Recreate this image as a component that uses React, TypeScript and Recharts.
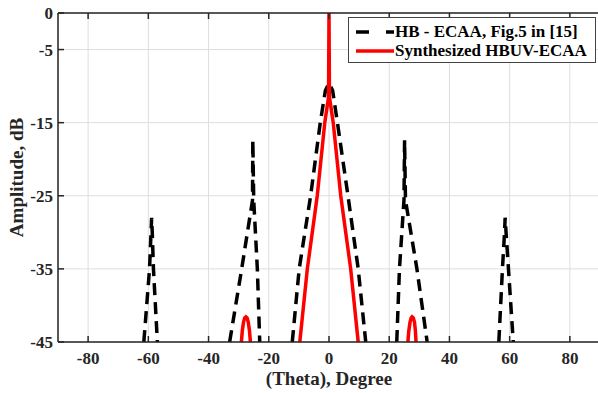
import React from 'react';
import { LineChart, Line, XAxis, YAxis, CartesianGrid, Legend } from 'recharts';

// Tick labels
const xTicks = [-80, -60, -40, -20, 0, 20, 40, 60, 80];
const yTicks = [0, -5, -15, -25, -35, -45];

// Series names
const hbName = 'HB - ECAA, Fig.5 in [15]';
const synName = 'Synthesized HBUV-ECAA';

// HB - ECAA (black dashed) — null marks a gap between lobes
const hbTheta = [
  -61.5, -59.6, -59.1, -58.9, -58.7, -58.3, -57.0,
  -45,
  -33.0, -29.0, -25.4, -25.3, -25.0, -23.8, -23.0,
  -18,
  -12.2, -9.9, -6.1, -2.9, -1.2, 0, 1.2, 2.8, 6.3, 9.7, 12.2,
  18,
  22.5, 23.4, 24.9, 25.1, 25.4, 29.2, 32.6,
  45,
  56.4, 57.6, 58.3, 58.5, 58.8, 59.6, 61.2,
];
const hbDb = [
  -45, -35, -30, -28, -30, -35, -45,
  null,
  -45, -35, -25.6, -17.4, -25.6, -35, -45,
  null,
  -45, -35, -25, -15, -10.6, -9.6, -10.6, -15, -25, -35, -45,
  null,
  -45, -35, -25.6, -17.4, -25.6, -35, -45,
  null,
  -45, -35, -30, -28, -30, -35, -45,
];

// Synthesized HBUV-ECAA (red solid)
const synTheta = [
  -29.1, -28.8, -28.4, -28.0, -27.6, -27.2, -26.8, -26.4, -26.1,
  -18,
  -9.7, -7.2, -3.9, -1.4, -0.15, 0, 0.15, 1.4, 3.9, 7.2, 9.7,
  18,
  26.2, 26.5, 26.9, 27.3, 27.6, 28.0, 28.4, 28.7, 28.9,
];
const synDb = [
  -45, -43.5, -42.3, -41.7, -41.55, -41.7, -42.3, -43.5, -45,
  null,
  -45, -35, -25, -15, -11.5, 0, -11.5, -15, -25, -35, -45,
  null,
  -45, -43.5, -42.3, -41.7, -41.55, -41.7, -42.3, -43.5, -45,
];

const hbData = hbTheta.map((x, i) => ({ x, y: hbDb[i] }));
const synData = synTheta.map((x, i) => ({ x, y: synDb[i] }));

const FONT = 'Liberation Serif, Times New Roman, serif';
const AX = '#262626';
const tickStyle = { fontFamily: FONT, fontWeight: 'bold' as const, fontSize: 17, fill: AX };

const legendDash: Record<string, string | undefined> = {
  [hbName]: '13 17',
  [synName]: undefined,
};

const renderLegend = (props: any) => {
  const payload = props.payload || [];
  return (
    <div
      style={{
        width: 248,
        height: 46,
        border: '1px solid #444',
        background: '#fff',
        boxSizing: 'border-box',
        padding: '4px 0 0 7px',
      }}
    >
      {payload.map((e: any) => (
        <div key={e.value} style={{ display: 'flex', alignItems: 'center', height: 19 }}>
          <svg width={38} height={6} style={{ display: 'block' }}>
            <line
              x1={0}
              y1={3}
              x2={38}
              y2={3}
              stroke={e.color}
              strokeWidth={3.5}
              strokeDasharray={legendDash[e.value]}
            />
          </svg>
          <span
            style={{
              fontFamily: FONT,
              fontWeight: 'bold',
              fontSize: 17,
              color: '#000',
              marginLeft: 1,
              whiteSpace: 'nowrap',
              lineHeight: '19px',
            }}
          >
            {e.value}
          </span>
        </div>
      ))}
    </div>
  );
};

export default function App() {
  return (
    <div style={{ position: 'absolute', left: 0, top: 0, width: 598, height: 393, overflow: 'hidden', background: '#fff' }}>
      <LineChart width={601} height={393} margin={{ top: 12, right: 0, bottom: 0, left: 0 }}>
        <CartesianGrid stroke="#dedede" strokeWidth={1} />
        <XAxis
          dataKey="x"
          type="number"
          domain={[-90, 90]}
          ticks={xTicks}
          allowDataOverflow
          height={51}
          tickSize={-6}
          tickMargin={16}
          axisLine={{ stroke: AX, strokeWidth: 1.5 }}
          tickLine={{ stroke: AX, strokeWidth: 1.5 }}
          tick={tickStyle}
          label={{
            content: (p: any) => {
              const vb = p.viewBox || {};
              return (
                <text
                  x={(vb.x ?? 58) + (vb.width ?? 542) / 2}
                  y={385}
                  textAnchor="middle"
                  fontFamily={FONT}
                  fontWeight="bold"
                  fontSize={19}
                  fill={AX}
                >
                  (Theta), Degree
                </text>
              );
            },
          }}
        />
        <XAxis
          xAxisId="top"
          orientation="top"
          dataKey="x"
          type="number"
          domain={[-90, 90]}
          ticks={xTicks}
          allowDataOverflow
          height={1}
          tickSize={-6}
          tickFormatter={() => ''}
          axisLine={{ stroke: AX, strokeWidth: 1.5 }}
          tickLine={{ stroke: AX, strokeWidth: 1.5 }}
        />
        <YAxis
          type="number"
          domain={[-45, 0]}
          ticks={yTicks}
          width={58}
          tickSize={-6}
          tickMargin={11}
          axisLine={{ stroke: AX, strokeWidth: 1.5 }}
          tickLine={{ stroke: AX, strokeWidth: 1.5 }}
          tick={tickStyle}
          label={{
            content: (p: any) => {
              const vb = p.viewBox || {};
              const cy = (vb.y ?? 13) + (vb.height ?? 329) / 2;
              return (
                <text
                  x={23}
                  y={cy}
                  transform={`rotate(-90, 23, ${cy})`}
                  textAnchor="middle"
                  fontFamily={FONT}
                  fontWeight="bold"
                  fontSize={19}
                  fill={AX}
                >
                  Amplitude, dB
                </text>
              );
            },
          }}
        />
        <YAxis
          yAxisId="right"
          orientation="right"
          type="number"
          domain={[-45, 0]}
          ticks={yTicks}
          width={1}
          tickSize={-6}
          tickFormatter={() => ''}
          axisLine={{ stroke: AX, strokeWidth: 1.5 }}
          tickLine={{ stroke: AX, strokeWidth: 1.5 }}
        />
        <Legend
          layout="vertical"
          align="center"
          verticalAlign="middle"
          content={renderLegend}
          wrapperStyle={{ left: 348, top: 17, width: 248, height: 46, right: 'auto', bottom: 'auto' }}
        />
        <Line
          data={hbData}
          dataKey="y"
          name={hbName}
          stroke="#000000"
          strokeWidth={3.5}
          strokeDasharray="12 7"
          dot={false}
          activeDot={false}
          connectNulls={false}
          type="linear"
          isAnimationActive={false}
        />
        <Line
          data={synData}
          dataKey="y"
          name={synName}
          stroke="#ff0000"
          strokeWidth={3.5}
          dot={false}
          activeDot={false}
          connectNulls={false}
          type="linear"
          isAnimationActive={false}
        />
      </LineChart>
    </div>
  );
}
